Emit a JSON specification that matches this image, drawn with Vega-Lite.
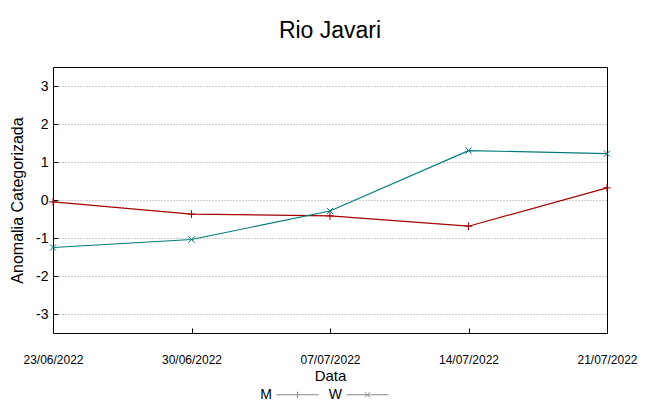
{
  "$schema": "https://vega.github.io/schema/vega-lite/v6.json",
  "width": 554,
  "height": 266,
  "autosize": {"type": "none"},
  "padding": {"left": 53, "top": 67, "right": 40, "bottom": 67},
  "background": "white",
  "title": {"text": "Rio Javari", "fontSize": 23, "font": "Liberation Sans", "fontWeight": "normal", "color": "black", "offset": 24},
  "config": {
    "view": {"stroke": "black", "strokeWidth": 1},
    "font": "Liberation Sans",
    "axis": {"labelFont": "Liberation Sans", "titleFont": "Liberation Sans", "labelColor": "black", "titleColor": "black", "titleFontWeight": "normal", "domain": false, "tickColor": "black"},
    "legend": {"title": null, "orient": "none", "legendX": 223, "legendY": 306, "direction": "horizontal", "symbolOpacity": 1, "symbolStrokeWidth": 1,
      "labelAlign": "right", "labelOffset": -47, "labelFontSize": 14, "labelColor": "black", "labelFont": "Liberation Sans", "columnPadding": 7, "symbolSize": 1764}
  },
  "data": {"values": [
    {"data": "2022-06-23", "serie": "M", "valor": -0.05},
    {"data": "2022-06-30", "serie": "M", "valor": -0.37},
    {"data": "2022-07-07", "serie": "M", "valor": -0.42},
    {"data": "2022-07-14", "serie": "M", "valor": -0.69},
    {"data": "2022-07-21", "serie": "M", "valor": 0.32},
    {"data": "2022-06-23", "serie": "W", "valor": -1.25},
    {"data": "2022-06-30", "serie": "W", "valor": -1.04},
    {"data": "2022-07-07", "serie": "W", "valor": -0.29},
    {"data": "2022-07-14", "serie": "W", "valor": 1.30},
    {"data": "2022-07-21", "serie": "W", "valor": 1.22}
  ]},
  "encoding": {
    "x": {"field": "data", "type": "temporal",
      "scale": {"type": "utc", "domain": [{"year": 2022, "month": 6, "date": 23, "utc": true}, {"year": 2022, "month": 7, "date": 21, "utc": true}]},
      "axis": {"title": "Data", "titleFontSize": 15, "titlePadding": 3, "labelFontSize": 12, "labelPadding": 26, "tickSize": -5, "grid": false,
        "labelExpr": "utcFormat(datum.value, '%d/%m/%Y')", "labelFlush": false, "labelOverlap": false,
        "values": [{"year": 2022, "month": 6, "date": 23, "utc": true}, {"year": 2022, "month": 6, "date": 30, "utc": true}, {"year": 2022, "month": 7, "date": 7, "utc": true}, {"year": 2022, "month": 7, "date": 14, "utc": true}, {"year": 2022, "month": 7, "date": 21, "utc": true}]}},
    "y": {"field": "valor", "type": "quantitative",
      "scale": {"domain": [-3.5, 3.5], "nice": false, "zero": false},
      "axis": {"title": "Anomalia Categorizada", "titleFontSize": 16, "titlePadding": 10, "labelFontSize": 14, "labelPadding": 10, "tickSize": -5,
        "labelExpr": "'' + datum.value",
        "values": [-3, -2, -1, 0, 1, 2, 3], "grid": true, "gridColor": "#a0a0a0", "gridDash": [1, 2], "gridWidth": 1}}
  },
  "layer": [
    {"mark": {"type": "line", "strokeWidth": 1.2},
      "encoding": {"color": {"field": "serie", "type": "nominal", "scale": {"domain": ["M", "W"], "range": ["#a40000", "#007b7b"]}, "legend": null}}},
    {"mark": {"type": "point", "filled": false, "strokeWidth": 1, "size": 60, "opacity": 1},
      "encoding": {"color": {"field": "serie", "type": "nominal", "legend": null},
        "shape": {"field": "serie", "type": "nominal", "scale": {"domain": ["M", "W"], "range": ["M-1,0H1M0,-1V1", "M-0.8,-0.8L0.8,0.8M-0.8,0.8L0.8,-0.8"]}, "legend": null}}},
    {"mark": {"type": "point", "filled": false, "strokeWidth": 1, "size": 1764, "strokeOpacity": 0},
      "encoding": {"color": {"field": "serie", "type": "nominal", "legend": {}},
        "shape": {"field": "serie", "type": "nominal",
        "scale": {"domain": ["M", "W"], "range": ["M-1,0H1M0,-0.15V0.15", "M-1,0H1M-0.12,-0.12L0.12,0.12M-0.12,0.12L0.12,-0.12"]},
        "legend": {"encode": {"symbols": {"update": {"stroke": {"signal": "datum.value === 'M' ? '#a40000' : '#007b7b'"}, "strokeOpacity": {"value": 1}, "opacity": {"value": 1}}}}}}}}
  ],
  "resolve": {"scale": {"shape": "independent"}}
}
